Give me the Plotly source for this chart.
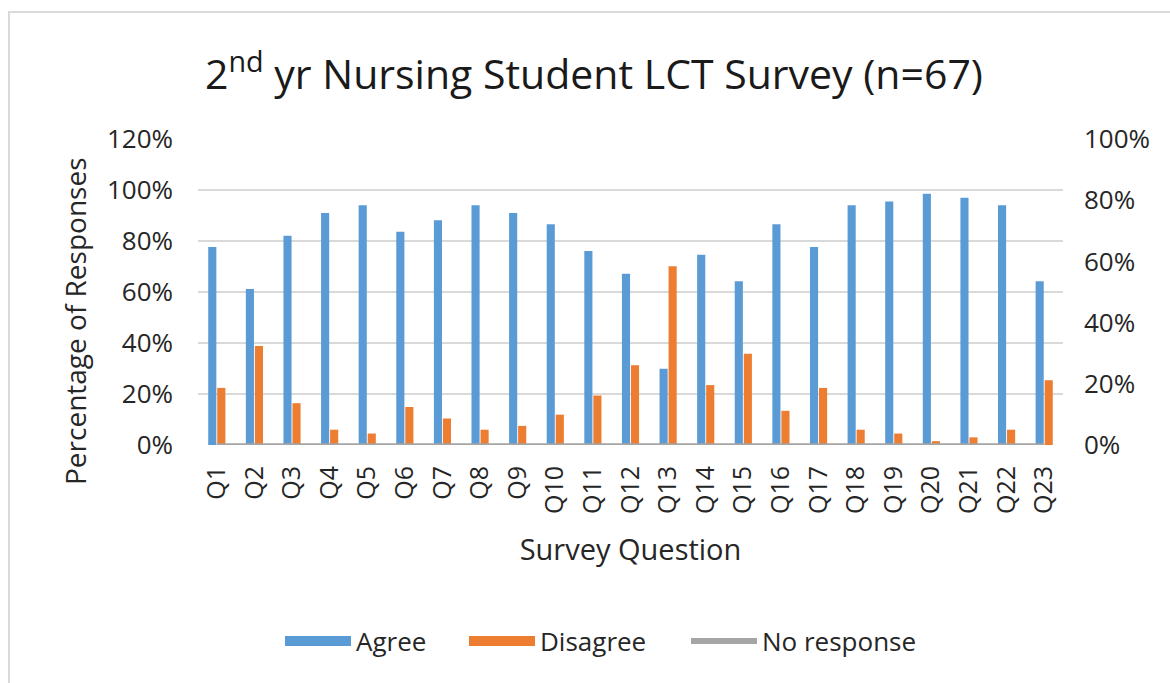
import plotly.graph_objects as go

questions = [f"Q{i}" for i in range(1, 24)]
agree = [0.776, 0.612, 0.821, 0.910, 0.940, 0.836, 0.881, 0.940, 0.910, 0.866, 0.761, 0.672,
         0.299, 0.746, 0.642, 0.866, 0.776, 0.940, 0.955, 0.985, 0.970, 0.940, 0.642]
disagree = [0.224, 0.388, 0.164, 0.060, 0.045, 0.149, 0.104, 0.060, 0.075, 0.119, 0.194, 0.313,
            0.701, 0.235, 0.358, 0.134, 0.224, 0.060, 0.045, 0.015, 0.030, 0.060, 0.254]
no_response = [0.0] * 23

FONT = "Open Sans"
TXT = "#262626"
BLUE, ORANGE, GRAY = "#5B9BD5", "#ED7D31", "#A5A5A5"

fig = go.Figure()
fig.add_trace(go.Bar(x=questions, y=agree, name="Agree", marker=dict(color=BLUE, line=dict(width=0)),
                     showlegend=False, legendgroup="a"))
fig.add_trace(go.Bar(x=questions, y=disagree, name="Disagree", marker=dict(color=ORANGE, line=dict(width=0)),
                     showlegend=False, legendgroup="d"))
fig.add_trace(go.Scatter(x=questions, y=no_response, name="No response", mode="lines",
                         line=dict(color=GRAY, width=3.5), yaxis="y2", showlegend=False, legendgroup="n"))
# legend entries (wide swatches like the original)
fig.add_trace(go.Scatter(x=[None], y=[None], name="Agree", mode="lines", legendgroup="a",
                         line=dict(color=BLUE, width=18), legend="legend"))
fig.add_trace(go.Scatter(x=[None], y=[None], name="Disagree", mode="lines", legendgroup="d",
                         line=dict(color=ORANGE, width=18), legend="legend2"))
fig.add_trace(go.Scatter(x=[None], y=[None], name="No response", mode="lines", legendgroup="n",
                         line=dict(color=GRAY, width=6), yaxis="y2", legend="legend3"))

L, R, T, B = 198, 107, 139, 238
W, H = 1170, 683
pw, ph = W - L - R, H - T - B

def px_x(p):
    return (p - L) / pw

def px_y(p):
    return (H - B - p) / ph

def leg(xpix):
    return dict(orientation="h", x=px_x(xpix), xanchor="left", y=px_y(641), yanchor="middle",
                font=dict(size=26, color=TXT), itemwidth=66, bgcolor="rgba(0,0,0,0)")

fig.update_layout(
    width=W, height=H,
    margin=dict(l=L, r=R, t=T, b=B, autoexpand=False),
    paper_bgcolor="white", plot_bgcolor="white",
    font=dict(family=FONT, color=TXT),
    title=dict(text="2<sup>nd</sup> yr Nursing Student LCT Survey (n=67)",
               x=594 / W, xanchor="center", y=1 - 75 / H, yanchor="middle",
               font=dict(size=41, family=FONT, color="#1a1a1a")),
    barmode="group", bargap=0.52, bargroupgap=0.1,
    xaxis=dict(tickangle=-90, tickfont=dict(size=25), showgrid=False, showline=False,
               ticks="", automargin=False, ticklabelstandoff=15,
               title=dict(text="Survey Question", font=dict(size=29), standoff=26)),
    yaxis=dict(range=[0, 1.2], dtick=0.2, tickformat=".0%", tickfont=dict(size=26),
               showgrid=True, gridcolor="#D9D9D9", gridwidth=1.5, zeroline=False, showline=False,
               ticks="", automargin=False, ticklabelstandoff=24),
    yaxis2=dict(range=[0, 1.0], dtick=0.2, tickformat=".0%", tickfont=dict(size=26),
                overlaying="y", side="right", showgrid=False, zeroline=False, showline=False,
                ticks="", automargin=False, ticklabelstandoff=20),
    legend=leg(280),
    legend2=leg(464),
    legend3=leg(686),
    showlegend=True,
    annotations=[dict(text="Percentage of Responses", textangle=-90, showarrow=False,
                      xref="paper", yref="paper", x=px_x(75), y=px_y(321),
                      xanchor="center", yanchor="middle", font=dict(size=28, color=TXT))],
    shapes=[dict(type="rect", xref="paper", yref="paper",
                 x0=px_x(9), x1=px_x(1190), y0=px_y(700), y1=px_y(12),
                 line=dict(color="#D9D9D9", width=2), fillcolor="rgba(0,0,0,0)", layer="below")],
)

fig.write_html("out.html", config={"displayModeBar": False},
               post_script="document.body.style.margin='0';document.body.style.overflow='hidden';")
